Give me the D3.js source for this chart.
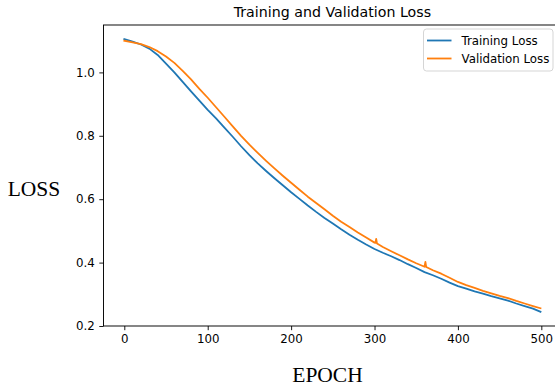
<!DOCTYPE html>
<html>
<head>
<meta charset="utf-8">
<script src="https://cdn.jsdelivr.net/npm/d3@7"></script>
<style>
  body { margin: 0; background: #fff; }
  svg { display: block; }
</style>
</head>
<body>
<div id="chart"></div>
<script>
// values, every 10 epochs
const epochs = [0, 10, 20, 30, 40, 50, 60, 70, 80, 90, 100, 110, 120, 130, 140, 150, 160, 170, 180, 190,
  200, 210, 220, 230, 240, 250, 260, 270, 280, 290, 300, 310, 320, 330, 340, 350, 360, 370, 380, 390,
  400, 410, 420, 430, 440, 450, 460, 470, 480, 490, 499];

const trainLoss = [1.105, 1.097, 1.088, 1.075, 1.055, 1.028, 1.000, 0.970, 0.940, 0.911, 0.882, 0.855, 0.826,
  0.797, 0.767, 0.739, 0.713, 0.689, 0.666, 0.644, 0.622, 0.601, 0.580, 0.560, 0.541, 0.523, 0.505, 0.488,
  0.472, 0.457, 0.443, 0.431, 0.420, 0.408, 0.395, 0.383, 0.370, 0.360, 0.349, 0.337, 0.326, 0.318, 0.309,
  0.302, 0.294, 0.287, 0.280, 0.271, 0.263, 0.255, 0.245];

const valLoss = [1.100, 1.095, 1.089, 1.080, 1.067, 1.050, 1.030, 1.005, 0.978, 0.948, 0.920, 0.890, 0.860,
  0.830, 0.800, 0.772, 0.746, 0.721, 0.697, 0.674, 0.652, 0.630, 0.608, 0.588, 0.568, 0.548, 0.529, 0.512,
  0.495, 0.479, 0.463, 0.449, 0.436, 0.423, 0.410, 0.398, 0.387, 0.376, 0.365, 0.352, 0.339, 0.329, 0.320,
  0.311, 0.303, 0.295, 0.288, 0.279, 0.271, 0.263, 0.256];

// the two small one-epoch spikes visible on the validation curve
const spikeEpochs = [301, 302, 303, 360, 361, 362];
const spikeLoss = [0.462, 0.475, 0.460, 0.387, 0.402, 0.386];

const xTicks = [0, 100, 200, 300, 400, 500];
const yTicks = [0.2, 0.4, 0.6, 0.8, 1.0];
const seriesNames = ['Training Loss', 'Validation Loss'];
const colors = ['#1f77b4', '#ff7f0e'];

const W = 555, H = 390;
const m = { left: 103.5, right: 561.3, top: 25, bottom: 326 };

const x = d3.scaleLinear().domain([-24.95, 523.95]).range([m.left, m.right]);
const y = d3.scaleLinear().domain([0.2, 1.1495]).range([m.bottom, m.top]);

const svg = d3.select('#chart').append('svg')
  .attr('width', W)
  .attr('height', H)
  .attr('font-family', 'DejaVu Sans');

svg.append('defs').append('clipPath').attr('id', 'plot')
  .append('rect')
  .attr('x', m.left).attr('y', m.top)
  .attr('width', m.right - m.left).attr('height', m.bottom - m.top);

// series
const trainPts = epochs.map((e, i) => [e, trainLoss[i]]);
const valPts = epochs.map((e, i) => [e, valLoss[i]])
  .concat(spikeEpochs.map((e, i) => [e, spikeLoss[i]]))
  .sort((a, b) => a[0] - b[0]);

const line = d3.line().x(d => x(d[0])).y(d => y(d[1]));

const plot = svg.append('g').attr('clip-path', 'url(#plot)');
[trainPts, valPts].forEach((pts, i) => {
  plot.append('path')
    .attr('d', line(pts))
    .attr('fill', 'none')
    .attr('stroke', colors[i])
    .attr('stroke-width', 1.8)
    .attr('stroke-linejoin', 'round')
    .attr('stroke-linecap', 'square');
});

// axes
const xAxis = svg.append('g')
  .attr('transform', `translate(0,${m.bottom})`)
  .call(d3.axisBottom(x).tickValues(xTicks).tickFormat(d3.format('d')).tickSizeOuter(0).tickSize(4.2).tickPadding(4));
const yAxis = svg.append('g')
  .attr('transform', `translate(${m.left},0)`)
  .call(d3.axisLeft(y).tickValues(yTicks).tickFormat(d3.format('.1f')).tickSizeOuter(0).tickSize(4.2).tickPadding(4.5));

[xAxis, yAxis].forEach(a => {
  a.select('.domain').remove();
  a.selectAll('line').attr('stroke', '#000').attr('stroke-width', 0.9);
  a.selectAll('text')
    .attr('font-family', 'DejaVu Sans')
    .attr('font-size', '11.8px')
    .attr('fill', '#000');
});

// spines (right spine falls outside the window)
svg.append('rect')
  .attr('x', m.left).attr('y', m.top)
  .attr('width', m.right - m.left).attr('height', m.bottom - m.top)
  .attr('fill', 'none')
  .attr('stroke', '#000')
  .attr('stroke-width', 0.95);

// title
svg.append('text')
  .attr('x', (m.left + m.right) / 2)
  .attr('y', 16.5)
  .attr('text-anchor', 'middle')
  .attr('font-size', '14.2px')
  .text('Training and Validation Loss');

// axis labels
svg.append('text')
  .attr('x', 34).attr('y', 195.5)
  .attr('text-anchor', 'middle')
  .attr('font-family', 'Liberation Serif')
  .attr('font-size', '21.5px')
  .text('LOSS');

svg.append('text')
  .attr('x', 327.5).attr('y', 382)
  .attr('text-anchor', 'middle')
  .attr('font-family', 'Liberation Serif')
  .attr('font-size', '21.5px')
  .text('EPOCH');

// legend
const legend = svg.append('g');
legend.append('rect')
  .attr('x', 423.5).attr('y', 29)
  .attr('width', 129.5).attr('height', 42)
  .attr('rx', 3)
  .attr('fill', '#fff').attr('fill-opacity', 0.8)
  .attr('stroke', '#d0d0d0').attr('stroke-width', 0.9);

seriesNames.forEach((name, i) => {
  const cy = 40.5 + i * 18;
  legend.append('line')
    .attr('x1', 427).attr('x2', 451.5)
    .attr('y1', cy).attr('y2', cy)
    .attr('stroke', colors[i]).attr('stroke-width', 1.8);
  legend.append('text')
    .attr('x', 461.5).attr('y', cy + 4.2)
    .attr('font-size', '11.8px')
    .text(name);
});
</script>
</body>
</html>
